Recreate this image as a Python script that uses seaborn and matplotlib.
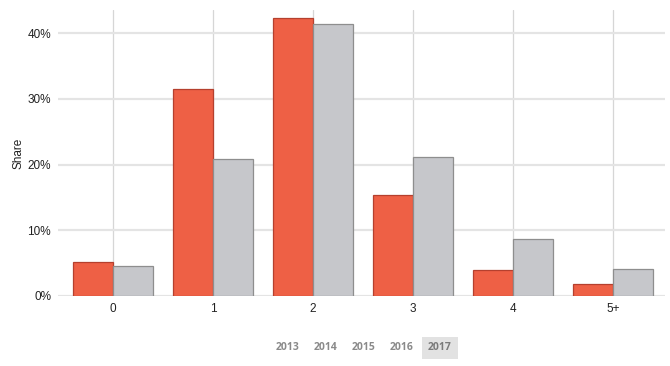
import pandas as pd
import matplotlib
matplotlib.use('Agg')
import matplotlib.pyplot as plt
import seaborn as sns

# Datos (porcentaje)
categorias = ['0', '1', '2', '3', '4', '5+']
serie_roja = [5.2, 31.5, 42.3, 15.4, 3.9, 1.8]
serie_gris = [4.5, 20.8, 41.3, 21.1, 8.6, 4.1]
anios = ['2013', '2014', '2015', '2016', '2017']
anio_activo = '2017'

data = pd.DataFrame({
    'Categoria': categorias * 2,
    'Share': serie_roja + serie_gris,
    'Serie': ['Roja'] * len(categorias) + ['Gris'] * len(categorias),
})

sns.set_style('white')
plt.rcParams['font.family'] = ['Liberation Sans', 'DejaVu Sans']

fig = plt.figure(figsize=(6.7, 3.66), dpi=100)
ax = fig.add_axes([58 / 670, 1 - 296 / 366, 607 / 670, 286 / 366])

colores = {'Roja': '#ee6045', 'Gris': '#c6c7cb'}
bordes = {'Roja': '#b5402e', 'Gris': '#8e8e8e'}

sns.barplot(data=data, x='Categoria', y='Share', hue='Serie', palette=colores,
            width=0.8, gap=0, saturation=1, legend=False, ax=ax, zorder=3)

for cont, serie in zip(ax.containers, ['Roja', 'Gris']):
    for barra in cont:
        barra.set_edgecolor(bordes[serie])
        barra.set_linewidth(0.9)

ax.set_xlim(-0.55, 5.52)
ax.set_ylim(0, 43.5)
ax.set_yticks([0, 10, 20, 30, 40])
ax.set_yticklabels([f'{v}%' for v in [0, 10, 20, 30, 40]])
ax.yaxis.grid(True, color='#e4e4e4', linewidth=1.6, zorder=0)
ax.xaxis.grid(True, color='#d6d6d6', linewidth=0.9, zorder=0)
ax.set_axisbelow(True)
for lado in ['top', 'right', 'left', 'bottom']:
    ax.spines[lado].set_visible(False)
ax.tick_params(axis='both', length=0, labelsize=8.5, colors='#222222')
ax.tick_params(axis='y', pad=5)
ax.tick_params(axis='x', pad=5)
ax.set_xlabel('')
ax.set_ylabel('Share', fontsize=8.5, color='#222222', labelpad=2)

# Selector de años
x0 = 288
for i, anio in enumerate(anios):
    xc = (x0 + i * 38) / 670
    kw = dict(ha='center', va='center', fontsize=7.5, fontweight='bold',
              color='#8a8a8a', family=['Open Sans', 'DejaVu Sans'])
    if anio == anio_activo:
        kw['bbox'] = dict(boxstyle='square,pad=0.55', facecolor='#e2e2e2',
                          edgecolor='none')
        kw['color'] = '#7a7a7a'
    fig.text(xc, 1 - 348 / 366, anio, **kw)

plt.savefig('out.png', dpi=100)
